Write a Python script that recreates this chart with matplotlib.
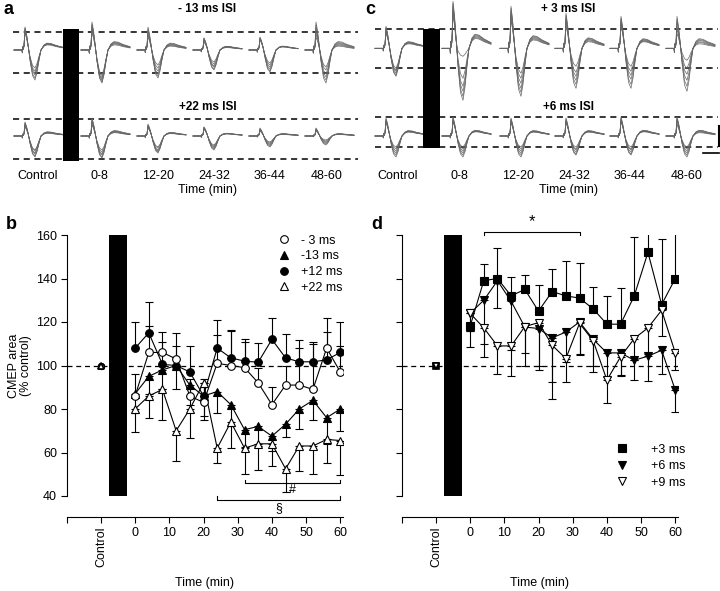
import matplotlib
matplotlib.use("Agg")
import matplotlib.pyplot as plt
import numpy as np

plt.rcParams['font.family'] = ['Liberation Sans', 'DejaVu Sans']
plt.rcParams['font.size'] = 9

# ---------------- panels b / d: CMEP area (% control) ----------------
times = [0, 4, 8, 12, 16, 20, 24, 28, 32, 36, 40, 44, 48, 52, 56, 60]
control_x = -10
control_y = 100

b_minus3 = [86, 106, 106, 103, 86, 83, 101, 100, 99, 92, 82, 91, 91, 89, 108, 97]
b_minus3_up = [10, 12, 5, 6, 8, 9, 13, 16, 12, 7, 8, 9, 17, 21, 14, 12]
b_minus13 = [87, 95, 98, 100, 91, 86, 88, 82, 70.5, 72, 67.5, 73, 80, 84, 76, 80]
b_minus13_dn = [9, 8, 9, 11, 9, 9, 10, 10, 8, 9, 7, 6, 9, 9, 12, 10]
b_plus12 = [108, 115, 100.5, 100, 97, 86, 108, 103.5, 102, 101.5, 112, 103.5, 101.7, 101.7, 102.6, 106]
b_plus12_up = [12, 14, 15, 15, 12, 8, 13, 13, 10, 9, 10, 11, 10, 9, 13, 14]
b_plus22 = [80, 86, 89, 70, 80, 92, 62, 74, 62, 64, 64, 52.5, 63, 63, 66, 65.5]
b_plus22_dn = [10.5, 10, 14, 14, 13.5, 17, 7, 12, 12, 12, 10, 10.5, 11.5, 13, 11, 16]

d_plus3 = [118, 139, 140, 132, 135, 125, 134, 132, 131, 126, 119, 119, 132, 152, 128, 140]
d_plus3_dn = [9.5, 0, 0, 0, 0, 0, 0, 0, 0, 0, 0, 0, 0, 0, 0, 0]
d_plus3_up = [0, 7.5, 14, 8.5, 6.5, 12, 10.5, 16, 16, 10, 13, 16.5, 27, 17.5, 30, 24]
d_plus6 = [124, 130, 139, 129.5, 117.7, 117, 112.7, 115.4, 120, 112, 105.8, 105.8, 102.4, 104.3, 107, 88.7]
d_plus6_dn = [8, 26, 12.5, 22.5, 17.7, 19, 28, 14, 15, 12, 11, 10.3, 9, 11.3, 11, 10.3]
d_plus9 = [124, 117.3, 109, 109, 117.9, 119.7, 109.3, 103.2, 119.4, 111.3, 93.3, 104, 112.4, 117.3, 125.4, 105.8]
d_plus9_dn = [8, 7.3, 12.7, 14, 12, 20, 17, 10.7, 14, 14.5, 10.6, 9, 10, 12, 12, 8]

# significance brackets: (start, end, level)
b_hash = (32, 60, 46)
b_sect = (24, 60, 38.3)
d_star = (4, 32, 161.3)

# ---------------- panels a / c: CMEP traces ----------------
epochs = ['Control', '0-8', '12-20', '24-32', '36-44', '48-60']
# template waveform (x in px from sweep start, y normalised)
tpl_x = [0, 8.0, 8.3, 8.7, 9.2, 10.0, 11.0, 12.5, 14.0, 16.0, 18.5, 21.0, 23.0,
         25.0, 27.0, 30.0, 33.0, 37.0, 42.0, 49.0]
tpl_y = [0, 0, -0.1, 0.15, 0.03, 0.2, 1.0, 0.7, 0.25, -0.35, -0.85, -1.0, -0.75,
         -0.35, 0.0, 0.22, 0.3, 0.28, 0.2, 0.12]

# peak (pos) and trough (neg) size of each sweep, px
a_top_pos = [[17, 19, 20, 21, 22, 23], [17, 20, 22, 24, 26, 28], [13, 15, 17, 19, 21, 23],
             [8, 9, 10, 11, 12, 12], [10, 11, 11, 12, 12, 13], [13, 16, 19, 22, 25, 28]]
a_top_neg = [[18, 21, 23, 25, 28, 30], [25, 27, 29, 30, 32, 33], [15, 18, 21, 24, 26, 28],
             [12, 14, 16, 17, 19, 20], [13, 15, 17, 19, 21, 22], [17, 20, 24, 27, 30, 33]]
a_bot_pos = [[9, 10, 11, 12, 13, 14], [11, 12, 14, 15, 17, 18], [8, 9, 10, 10, 11, 12],
             [7, 7, 8, 8, 9, 9], [5, 6, 6, 7, 7, 8], [5, 6, 6, 7, 7, 8]]
a_bot_neg = [[14, 15, 17, 18, 20, 21], [14, 16, 18, 19, 21, 22], [11, 12, 14, 15, 16, 17],
             [9, 10, 11, 12, 13, 14], [6, 7, 8, 9, 10, 11], [4, 5, 6, 7, 8, 9]]
c_top_pos = [[15, 17, 18, 19, 21, 22], [33, 36, 39, 42, 45, 47], [28, 31, 34, 37, 40, 42],
             [22, 25, 28, 30, 33, 35], [22, 24, 26, 28, 30, 32], [15, 19, 22, 26, 29, 32]]
c_top_neg = [[20, 22, 23, 25, 27, 28], [8, 30, 38, 43, 48, 52], [25, 30, 35, 40, 44, 48],
             [18, 24, 28, 32, 36, 40], [18, 23, 27, 31, 36, 40], [12, 20, 26, 32, 38, 43]]
c_bot_pos = [[13, 14, 15, 16, 17, 18], [14, 15, 16, 17, 18, 19], [13, 14, 15, 16, 17, 18],
             [13, 14, 15, 16, 17, 18], [14, 15, 16, 17, 18, 19], [11, 13, 15, 17, 18, 19]]
c_bot_neg = [[11, 13, 15, 17, 19, 21], [11, 13, 15, 17, 19, 21], [11, 13, 15, 17, 19, 21],
             [11, 13, 14, 16, 18, 19], [11, 13, 14, 16, 18, 19], [11, 13, 15, 17, 19, 21]]


def draw_traces(ax, starts, base, pos_list, neg_list):
    tx = np.array(tpl_x)
    ty = np.array(tpl_y)
    for x0, pos, neg in zip(starts, pos_list, neg_list):
        for p, n in zip(pos, neg):
            amp = np.where(ty > 0, ty * p, ty * n)
            ax.plot(x0 + tx, base - amp, color='0.4', lw=0.5)


def trace_panel(ax, x0, x1, starts, label_x, rows, bar, titles, letter):
    for (base, top, bot, pos, neg), (title, ty) in zip(rows, titles):
        for yl in (top, bot):
            ax.plot([x0, x1], [yl, yl], color='k', lw=1.1, dashes=(4, 3))
        draw_traces(ax, starts, base, pos, neg)
        ax.text((x0 + x1) / 2 + 22, ty, title, ha='center', va='center',
                fontsize=8.5, fontweight='bold')
    ax.fill_between(bar[0], bar[1], bar[2], color='k', lw=0, zorder=5)
    for lx, ep in zip(label_x, epochs):
        ax.text(lx, 175.7, ep, ha='center', va='center', fontsize=9)
    ax.text((x0 + x1) / 2 + 22, 190, 'Time (min)', ha='center', va='center', fontsize=9)
    ax.text(x0 - 10, 10, letter, ha='left', va='center', fontsize=13, fontweight='bold')


fig = plt.figure(figsize=(7.2, 5.91), dpi=100)

ovl = fig.add_axes([0, 0, 1, 1])
ovl.set_xlim(0, 720)
ovl.set_ylim(591, 0)
ovl.axis('off')

trace_panel(ovl, 13, 358, [14, 81, 137, 193, 249, 305],
            [38, 99, 158, 214, 270, 327],
            [(50, 31.7, 73.3, a_top_pos, a_top_neg), (136, 119.3, 158.7, a_bot_pos, a_bot_neg)],
            ([63.3, 79.3], 29.3, 161), [('- 13 ms ISI', 8.5), ('+22 ms ISI', 107)], 'a')
trace_panel(ovl, 375, 718, [375, 442, 500, 555, 610, 666],
            [398, 459, 518, 574, 630, 687],
            [(48.3, 29.3, 68.3, c_top_pos, c_top_neg), (136, 117.3, 146.7, c_bot_pos, c_bot_neg)],
            ([423.3, 440], 29.3, 148.3), [('+ 3 ms ISI', 8.5), ('+6 ms ISI', 107)], 'c')
# scale bars
ovl.plot([718.5, 718.5], [126, 146], color='k', lw=1.5)
ovl.plot([703, 718.5], [152.7, 152.7], color='k', lw=1.2)


def style_axes(ax, show_ylabels):
    ax.set_xlim(-20, 60.7)
    ax.set_ylim(40, 160)
    ax.spines['top'].set_visible(False)
    ax.spines['right'].set_visible(False)
    ax.spines['bottom'].set_position(('outward', 15))
    ax.spines['bottom'].set_bounds(-20, 60.7)
    ax.set_xticks([-20, -10, 0, 10, 20, 30, 40, 50, 60])
    ax.set_xticklabels(['', 'Control', '0', '10', '20', '30', '40', '50', '60'])
    ax.get_xticklabels()[1].set_rotation(90)
    ax.set_yticks([40, 60, 80, 100, 120, 140, 160])
    if not show_ylabels:
        ax.set_yticklabels([])
    ax.tick_params(direction='out', length=4, width=0.8, labelsize=9, pad=3)
    for s in ('left', 'bottom'):
        ax.spines[s].set_linewidth(0.8)
    ax.patch.set_visible(False)
    ax.axhline(100, color='k', lw=0.9, dashes=(4, 3), zorder=1)
    ax.bar(-5, 120, width=5, bottom=40, color='k', zorder=2)
    ax.set_xlabel('Time (min)', fontsize=9, va='center')
    ax.xaxis.set_label_coords(0.5, -0.333)


def series(ax, y, lo, hi, marker, fc, label, z):
    ax.errorbar(times, y, yerr=[lo, hi], fmt='none', ecolor='k', elinewidth=0.8,
                capsize=3, capthick=0.8, zorder=3)
    ax.plot(times, y, '-', color='k', lw=0.8, zorder=4)
    ax.plot(times, y, linestyle='none', marker=marker, mfc=fc, mec='k', ms=5.5,
            mew=0.8, label=label, zorder=z)
    ax.plot([control_x], [control_y], marker=marker, mfc=fc, mec='k', ms=4,
            mew=1.2, zorder=z)


def bracket(ax, span, tip, text, text_y, size=9):
    x0, x1, lev = span
    ax.plot([x0, x0, x1, x1], [lev + tip, lev, lev, lev + tip], color='k', lw=0.8,
            clip_on=False, zorder=6)
    ax.text((x0 + x1) / 2, text_y, text, ha='center', va='center', fontsize=size,
            clip_on=False)


zeros = [0] * len(times)

axb = fig.add_axes([66.7 / 720, 95 / 591, 276 / 720, 261 / 591])
style_axes(axb, True)
axb.set_ylabel('CMEP area\n(% control)', fontsize=9, labelpad=3, linespacing=1.0)
series(axb, b_minus3, zeros, b_minus3_up, 'o', 'white', '- 3 ms', 8)
series(axb, b_minus13, b_minus13_dn, zeros, '^', 'black', '-13 ms', 7)
series(axb, b_plus12, zeros, b_plus12_up, 'o', 'black', '+12 ms', 6)
series(axb, b_plus22, b_plus22_dn, zeros, '^', 'white', '+22 ms', 9)
bracket(axb, b_hash, 1.5, '#', 42.8)
bracket(axb, b_sect, 1.5, '§', 34.4)
axb.legend(loc='upper right', bbox_to_anchor=(1.03, 1.035), frameon=False, fontsize=9,
           handlelength=1.0, handletextpad=0.8, labelspacing=0.3, borderpad=0.2)
axb.text(-0.22, 1.04, 'b', transform=axb.transAxes, fontsize=13, fontweight='bold',
         ha='left', va='center')

axd = fig.add_axes([401.7 / 720, 95 / 591, 276 / 720, 261 / 591])
style_axes(axd, False)
series(axd, d_plus3, d_plus3_dn, d_plus3_up, 's', 'black', '+3 ms', 6)
series(axd, d_plus6, d_plus6_dn, zeros, 'v', 'black', '+6 ms', 7)
series(axd, d_plus9, d_plus9_dn, zeros, 'v', 'white', '+9 ms', 8)
bracket(axd, d_star, -1.5, '*', 166.0, size=12)
axd.legend(loc='lower right', bbox_to_anchor=(1.06, -0.005), frameon=False, fontsize=9,
           handlelength=1.0, handletextpad=1.8, labelspacing=0.35, borderpad=0.2)
axd.text(-0.11, 1.04, 'd', transform=axd.transAxes, fontsize=13, fontweight='bold',
         ha='left', va='center')

fig.savefig('out.png', dpi=100)
